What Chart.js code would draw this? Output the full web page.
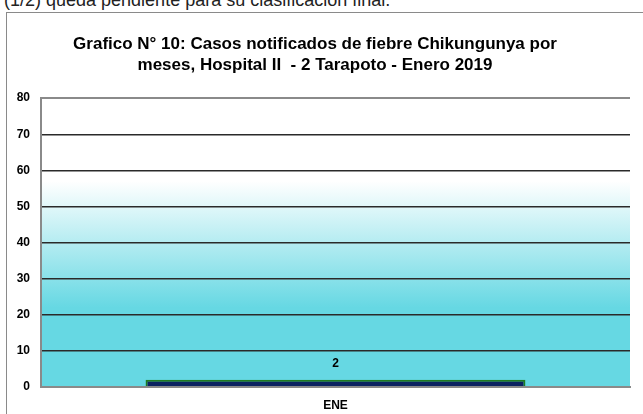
<!DOCTYPE html>
<html>
<head>
<meta charset="utf-8">
<script src="https://cdn.jsdelivr.net/npm/chart.js@4/dist/chart.umd.min.js"></script>
<style>
  html, body { margin: 0; padding: 0; background: #fff; overflow: hidden; }
  body { width: 643px; height: 414px; position: relative; font-family: "Liberation Sans", Arial, sans-serif; }
  #intro { position: absolute; left: 4px; top: -9px; font-size: 18px; line-height: 18px; color: #222; white-space: nowrap; }
  #frame { position: absolute; left: 6px; top: 12px; width: 650px; height: 420px; border: 1px solid #8a8a8a; box-sizing: border-box; }
  #myChart { position: absolute; left: 0; top: 0; }
</style>
</head>
<body>
<div id="intro">(1/2) queda pendiente para su clasificación final.</div>
<div id="frame"></div>
<canvas id="myChart" width="643" height="414"></canvas>
<script>
// --- Data ---
const months = ['ENE'];
const cases = [2];
const titleLines = [
    'Grafico N° 10: Casos notificados de fiebre Chikungunya por',
    'meses, Hospital II  - 2 Tarapoto - Enero 2019'
];
const yTicks = [0, 10, 20, 30, 40, 50, 60, 70, 80];

const fontFamily = '"Liberation Sans Narrow", "Arial Narrow", "Liberation Sans", Arial, sans-serif';

// Plot background: white at the top, fading into cyan lower down
const plotBackground = {
    id: 'plotBackground',
    beforeDraw(chart) {
        const { ctx, chartArea: a, scales: { y } } = chart;
        const g = ctx.createLinearGradient(0, y.getPixelForValue(57), 0, y.getPixelForValue(22));
        g.addColorStop(0, '#ffffff');
        g.addColorStop(1, '#66d8e3');
        ctx.save();
        ctx.fillStyle = g;
        ctx.fillRect(a.left, a.top, a.right - a.left, a.bottom - a.top);
        ctx.restore();
    }
};

// Value labels above the bars
const barValues = {
    id: 'barValues',
    afterDatasetsDraw(chart) {
        const { ctx } = chart;
        const meta = chart.getDatasetMeta(0);
        ctx.save();
        ctx.font = 'bold 12px ' + fontFamily;
        ctx.fillStyle = '#000';
        ctx.textAlign = 'center';
        ctx.textBaseline = 'bottom';
        meta.data.forEach((bar, i) => {
            ctx.fillText(String(cases[i]), bar.x, bar.y - 10);
        });
        ctx.restore();
    }
};

new Chart(document.getElementById('myChart').getContext('2d'), {
    type: 'bar',
    data: {
        labels: months,
        datasets: [{
            data: cases,
            backgroundColor: '#0b2260',
            borderColor: '#1f7a1f',
            borderWidth: 2,
            barPercentage: 0.645,
            categoryPercentage: 1
        }]
    },
    options: {
        responsive: false,
        animation: false,
        layout: { padding: { top: 34, right: 13, bottom: 0, left: 0 } },
        plugins: {
            legend: { display: false },
            tooltip: { enabled: false },
            title: {
                display: true,
                text: titleLines,
                color: '#000',
                font: { family: fontFamily, size: 17, weight: 'bold', lineHeight: 1.24 },
                padding: { top: 0, bottom: 22 }
            }
        },
        scales: {
            x: {
                afterFit: scale => { scale.height = 27; },
                grid: { display: false },
                border: { color: '#8a8a8a', width: 2 },
                ticks: { color: '#000', font: { family: fontFamily, size: 12, weight: 'bold' }, padding: 3 }
            },
            y: {
                min: 0,
                max: 80,
                afterBuildTicks: scale => { scale.ticks = yTicks.map(v => ({ value: v })); },
                afterFit: scale => { scale.width = 41; },
                grid: {
                    drawTicks: false,
                    color: ctx => (ctx.tick.value === 0 || ctx.tick.value === 80) ? '#8a8a8a' : '#2a2a2a',
                    lineWidth: ctx => (ctx.tick.value === 0 || ctx.tick.value === 80) ? 2 : 1.5
                },
                border: { color: '#8a8a8a', width: 2 },
                ticks: { color: '#000', font: { family: fontFamily, size: 12, weight: 'bold' }, padding: 11 }
            }
        }
    },
    plugins: [plotBackground, barValues]
});
</script>
</body>
</html>
